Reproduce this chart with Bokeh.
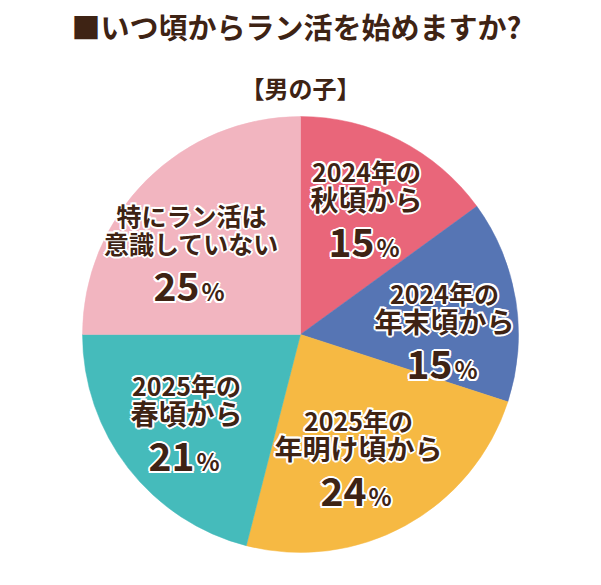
from math import pi

from bokeh.plotting import figure
from bokeh.models import Range1d, ColumnDataSource
from bokeh.core.properties import value
from bokeh.embed import file_html
from bokeh.resources import INLINE

# data
categories = ["2024年の秋頃から", "2024年の年末頃から", "2025年の年明け頃から",
              "2025年の春頃から", "特にラン活は意識していない"]
shares = [15, 15, 24, 21, 25]
colors = ["#E9667A", "#5675B4", "#F6B943", "#45BBBB", "#F2B5C0"]
line1 = ["2024年の", "2024年の", "2025年の", "2025年の", "特にラン活は"]
line2 = ["秋頃から", "年末頃から", "年明け頃から", "春頃から", "意識していない"]
pct_labels = ["15", "15", "24", "21", "25"]

# label anchor positions (page pixels) and sizes
lab_x = [366, 444, 358, 186, 191]
lab_y = [170, 292, 419, 384, 214]
size1 = ["25px", "25px", "25px", "25px", "25px"]
size2 = ["28px", "28px", "28px", "28px", "25px"]

FONT = value("Noto Sans CJK JP")
BROWN = "#3E2314"

p = figure(width=593, height=577, output_backend="svg", toolbar_location=None,
           x_range=Range1d(0, 593), y_range=Range1d(577, 0),
           min_border=0)
p.axis.visible = False
p.grid.visible = False
p.outline_line_color = None
p.background_fill_color = "white"
p.border_fill_color = "white"

# wedges, clockwise from 12 o'clock
total = sum(shares)
starts, ends = [], []
acc = 0
for s in shares:
    starts.append(pi / 2 - 2 * pi * acc / total)
    acc += s
    ends.append(pi / 2 - 2 * pi * acc / total)

src = ColumnDataSource(dict(cat=categories, share=shares, color=colors,
                            start=starts, end=ends))
p.wedge(x=300, y=334, radius=218, start_angle="start", end_angle="end",
        direction="clock", fill_color="color", line_color="color",
        line_width=0.5, source=src)

# labels
lsrc = ColumnDataSource(dict(
    x=lab_x, y1=lab_y, y2=[y + 28 for y in lab_y], y3=[y + 72 for y in lab_y],
    l1=line1, l2=line2, pct=pct_labels, s1=size1, s2=size2,
    xn=[x + 8 for x in lab_x], xp=[x + 10 for x in lab_x],
))


def label_layer(color, dx=0, dy=0):
    kw = dict(text_font=FONT, text_font_style="bold", text_color=color,
              text_baseline="middle", source=lsrc, x_offset=dx)
    p.text(x="x", y="y1", text="l1", text_font_size="s1", text_align="center",
           y_offset=dy, **kw)
    p.text(x="x", y="y2", text="l2", text_font_size="s2", text_align="center",
           y_offset=dy, **kw)
    p.text(x="xn", y="y3", text="pct", text_font_size="39px", text_align="right",
           y_offset=dy, **kw)
    p.text(x="xp", y="y3", text=value("%"), text_font_size="24px", text_align="left",
           y_offset=dy + 4, **kw)


# white halo behind the labels
for dx, dy in [(-2, 0), (2, 0), (0, -2), (0, 2), (-1.5, -1.5), (1.5, -1.5),
               (-1.5, 1.5), (1.5, 1.5)]:
    label_layer("white", dx, dy)
label_layer(BROWN)

# title and subtitle
p.text(x=[296], y=[25], text=["■いつ頃からラン活を始めますか?"], text_font=FONT,
       text_font_style="bold", text_font_size="29px", text_color=BROWN,
       text_align="center", text_baseline="middle")
p.text(x=[300], y=[87], text=["【男の子】"], text_font=FONT,
       text_font_style="bold", text_font_size="24px", text_color=BROWN,
       text_align="center", text_baseline="middle")

open("out.html", "w").write(file_html(p, INLINE))
